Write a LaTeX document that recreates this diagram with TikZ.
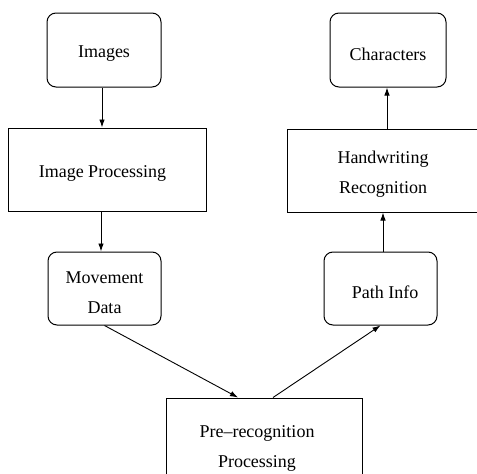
\documentclass[tikz,border=0pt]{standalone}
\usepackage{fontspec}
\setmainfont{Liberation Serif}
\usetikzlibrary{arrows.meta,calc}
\begin{document}
\begin{tikzpicture}[x=1pt,y=-1pt,
  every node/.style={font=\fontsize{18}{30}\selectfont, align=center, inner sep=0pt},
  every label/.style={font=\fontsize{18}{30}\selectfont, align=center, inner sep=0pt, yshift=-4pt},
  rbox/.style={draw, line width=1pt, rounded corners=9pt},
  sbox/.style={draw, line width=1pt},
  arr/.style={line width=0.9pt, -{Latex[length=8pt,width=5.5pt]}}]
\useasboundingbox (0,0) rectangle (477,474);
\fill[white] (0,0) rectangle (477,474);
\begin{scope}
\clip (0,0) rectangle (477,474);
\node[rbox, minimum width=114pt, minimum height=74pt, label={center:Images}] (images) at (104,50) {};
\node[sbox, minimum width=198pt, minimum height=83pt, label={[xshift=-4.5pt]center:Image Processing}] (improc) at (107,169.5) {};
\node[rbox, minimum width=113pt, minimum height=73pt, label={center:Movement\\Data}] (movement) at (104.5,288.5) {};
\node[rbox, minimum width=116pt, minimum height=74pt, label={center:Characters}] (characters) at (388,50) {};
\node[sbox, minimum width=192pt, minimum height=83pt, label={center:Handwriting\\Recognition}] (handwriting) at (383,170.5) {};
\node[rbox, minimum width=113pt, minimum height=73pt, label={[xshift=4.5pt]center:Path Info}] (pathinfo) at (380.5,288.5) {};
\node[sbox, minimum width=196pt, minimum height=92pt, label={[xshift=-7pt]center:Pre--recognition\\Processing}] (prerec) at (264,444) {};
\coordinate (prein) at ($(prerec.north)+(-26,0)$);
\coordinate (preout) at ($(prerec.north)+(9,0)$);
\draw[arr] (images.south -| 102,0) -- (improc.north -| 102,0);
\draw[arr] (improc.south -| 101,0) -- (movement.north -| 101,0);
\draw[arr] (handwriting.north -| 387,0) -- (characters.south -| 387,0);
\draw[arr] (pathinfo.north -| 383,0) -- (handwriting.south -| 383,0);
\draw[arr] (movement.south) -- (prein);
\draw[arr] (preout) -- (pathinfo.south);
\end{scope}
\end{tikzpicture}
\end{document}
